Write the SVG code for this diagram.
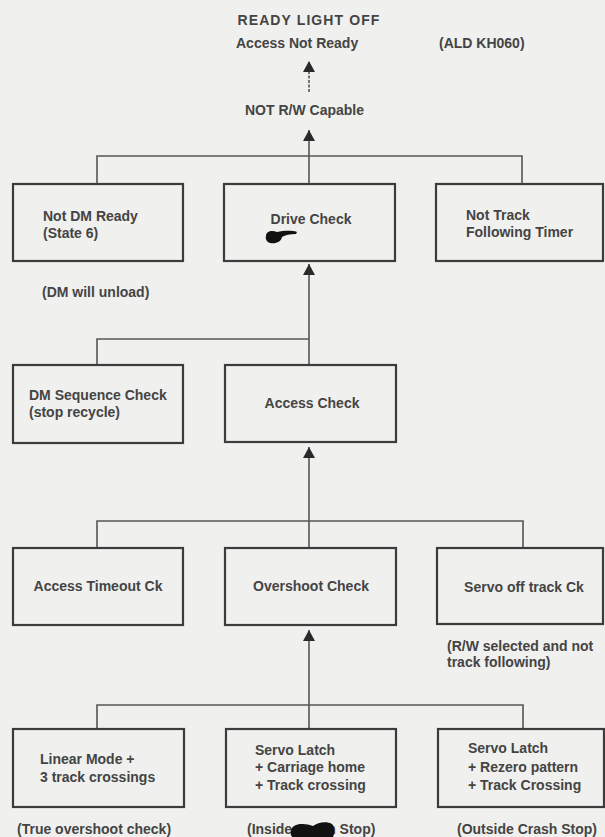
<svg xmlns="http://www.w3.org/2000/svg" width="605" height="837" viewBox="0 0 605 837">
<defs>
<marker id="arr" markerUnits="userSpaceOnUse" markerWidth="13" markerHeight="12" refX="11" refY="6" orient="auto">
<path d="M0,0 L11,6 L0,12 Z" fill="#2a2a2a"/>
</marker>
<style>
text{font-family:"Liberation Sans",Arial,sans-serif;font-weight:bold;font-size:14px;fill:#444}
.box{fill:none;stroke:#3c3c3c;stroke-width:2.2}
.con{fill:none;stroke:#555;stroke-width:1.6}
.mid{text-anchor:middle}
.blot{fill:#111}
</style>
</defs>
<rect x="0" y="0" width="605" height="837" fill="#f0f0ee"/>

<g id="header">
<text x="309" y="25" class="mid" letter-spacing="1.1">READY LIGHT OFF</text>
<text x="236" y="48">Access Not Ready</text>
<text x="439" y="48">(ALD KH060)</text>
<text x="245" y="115">NOT R/W Capable</text>
</g>

<g id="connectors">
<line class="con" x1="309" y1="92" x2="309" y2="61" marker-end="url(#arr)" stroke-dasharray="3 1.5"/>
<line class="con" x1="309" y1="183" x2="309" y2="130" marker-end="url(#arr)"/>
<path class="con" d="M97,183 V156 H522 V183"/>
<line class="con" x1="309" y1="364" x2="309" y2="264" marker-end="url(#arr)"/>
<path class="con" d="M97,364 V339 H309"/>
<line class="con" x1="309" y1="547" x2="309" y2="447" marker-end="url(#arr)"/>
<path class="con" d="M97,547 V521 H523 V547"/>
<line class="con" x1="309" y1="729" x2="309" y2="630" marker-end="url(#arr)"/>
<path class="con" d="M97,729 V705 H523 V729"/>
</g>

<g id="not-dm-ready">
<rect class="box" x="13" y="184" width="170" height="77"/>
<text x="43" y="221">Not DM Ready</text>
<text x="43" y="238">(State 6)</text>
</g>
<text x="42" y="297">(DM will unload)</text>

<g id="drive-check">
<rect class="box" x="224" y="184" width="171" height="77"/>
<text x="311" y="224" class="mid">Drive Check</text>
<path class="blot" d="M266,236 C266,231 272,230 277,232 C283,231 291,230 297,232 L296,234 C290,234 285,235 282,237 C281,242 276,244 270,243 C267,242 265,239 266,236 Z"/>
</g>

<g id="not-track-following">
<rect class="box" x="436" y="184" width="167" height="77"/>
<text x="466" y="220">Not Track</text>
<text x="466" y="237">Following Timer</text>
</g>

<g id="dm-sequence-check">
<rect class="box" x="13" y="365" width="170" height="78"/>
<text x="29" y="400">DM Sequence Check</text>
<text x="29" y="417">(stop recycle)</text>
</g>

<g id="access-check">
<rect class="box" x="225" y="365" width="171" height="77"/>
<text x="312" y="408" class="mid">Access Check</text>
</g>

<g id="access-timeout">
<rect class="box" x="13" y="548" width="170" height="77"/>
<text x="98" y="591" class="mid">Access Timeout Ck</text>
</g>

<g id="overshoot-check">
<rect class="box" x="225" y="548" width="171" height="77"/>
<text x="311" y="591" class="mid">Overshoot Check</text>
</g>

<g id="servo-off-track">
<rect class="box" x="437" y="548" width="166" height="76"/>
<text x="524" y="592" class="mid">Servo off track Ck</text>
</g>
<text x="447" y="651">(R/W selected and not</text>
<text x="447" y="667">track following)</text>

<g id="linear-mode">
<rect class="box" x="13" y="729" width="171" height="78"/>
<text x="40" y="764">Linear Mode +</text>
<text x="40" y="782">3 track crossings</text>
</g>
<text x="17" y="834">(True overshoot check)</text>

<g id="servo-latch-home">
<rect class="box" x="226" y="729" width="170" height="78"/>
<text x="255" y="755">Servo Latch</text>
<text x="255" y="772">+ Carriage home</text>
<text x="255" y="790">+ Track crossing</text>
</g>
<g id="inside-label">
<text x="247" y="834">(Inside Crash Stop)</text>
<path class="blot" d="M292,828 C295,823 306,823 313,826 C318,822 327,821 332,824 C335,827 335,833 333,837 L292,837 C290,834 290,831 292,828 Z"/>
</g>

<g id="servo-latch-rezero">
<rect class="box" x="438" y="729" width="166" height="78"/>
<text x="468" y="753">Servo Latch</text>
<text x="468" y="772">+ Rezero pattern</text>
<text x="468" y="790">+ Track Crossing</text>
</g>
<text x="457" y="834">(Outside Crash Stop)</text>
</svg>
